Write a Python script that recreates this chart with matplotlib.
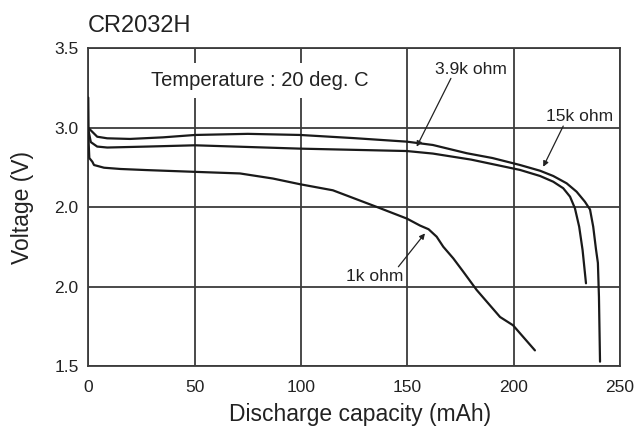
import matplotlib
matplotlib.use("Agg")
import matplotlib.pyplot as plt

plt.rcParams['font.family'] = ['Liberation Sans', 'DejaVu Sans']

# ---- data ----
cap_15k = [0, 4.2, 8.9, 19.6, 35.1, 50.2, 75, 99.6, 125, 149.7, 162, 178, 190, 203.0, 212.4,
           218.6, 224.9, 229.6, 233.5, 235.9, 237.4, 238.7, 239.6, 240.1, 240.6]
v_15k   = [3.0, 2.944, 2.934, 2.93, 2.94, 2.955, 2.962, 2.955, 2.935, 2.913, 2.892, 2.84, 2.81, 2.766, 2.730,
           2.697, 2.651, 2.598, 2.535, 2.486, 2.378, 2.236, 2.15, 1.936, 1.529]

cap_39k = [0, 1.2, 4.2, 8.9, 27.6, 50.2, 99.6, 149.7, 162, 180, 203.0, 212.4, 218.6, 223.3,
           226.5, 228.8, 230.8, 232.4, 234.0]
v_39k   = [2.99, 2.91, 2.882, 2.876, 2.882, 2.89, 2.869, 2.854, 2.838, 2.80, 2.735, 2.697, 2.661, 2.62,
           2.567, 2.494, 2.378, 2.231, 2.022]

cap_1k = [0, 0.2, 0.5, 1.9, 2.7, 7.4, 15.2, 27.6, 50.2, 71.3, 86.8, 99.6, 115, 135.7, 149.8,
          156, 160, 163.8, 166.9, 171.6, 176.3, 182.6, 193.6, 199.7, 210]
v_1k   = [3.19, 2.90, 2.81, 2.787, 2.766, 2.749, 2.741, 2.734, 2.723, 2.713, 2.681, 2.645, 2.607, 2.502, 2.429,
          2.385, 2.362, 2.315, 2.252, 2.179, 2.095, 1.98, 1.81, 1.758, 1.60]

x_ticks = [0, 50, 100, 150, 200, 250]
x_tick_labels = ['0', '50', '100', '150', '200', '250']
y_ticks = [1.5, 2.0, 2.5, 3.0, 3.5]
y_tick_labels = ['1.5', '2.0', '2.0', '3.0', '3.5']

labels = ['15k ohm', '3.9k ohm', '1k ohm']
label_pos = {'15k ohm': (231.2, 3.043), '3.9k ohm': (179.7, 3.338), '1k ohm': (134.8, 2.036)}
arrow_from = {'15k ohm': (223.3, 3.011), '3.9k ohm': (170.5, 3.311), '1k ohm': (145.8, 2.126)}
arrow_to = {'15k ohm': (213.9, 2.755), '3.9k ohm': (154.4, 2.881), '1k ohm': (158.3, 2.336)}

# ---- figure ----
fig = plt.figure(figsize=(6.35, 4.28), dpi=100)
ax = fig.add_axes([0.139, 0.1442, 0.8374, 0.7429])

grid_c = '#3c3c3c'
txt_c = '#222222'

ax.set_xlim(0, 250)
ax.set_ylim(1.5, 3.5)
ax.set_xticks(x_ticks)
ax.set_xticklabels(x_tick_labels)
ax.set_yticks(y_ticks)
ax.set_yticklabels(y_tick_labels)
ax.tick_params(length=0, labelsize=12.5, colors=txt_c)
ax.tick_params(axis='x', pad=10)
ax.tick_params(axis='y', pad=7)
ax.grid(True, color=grid_c, linewidth=1.3)
ax.set_axisbelow(True)
for s in ax.spines.values():
    s.set_color(grid_c)
    s.set_linewidth(1.3)

for cx, cy in [(cap_15k, v_15k), (cap_39k, v_39k), (cap_1k, v_1k)]:
    ax.plot(cx, cy, color='#1a1a1a', linewidth=1.6, solid_joinstyle='round',
            solid_capstyle='round', zorder=3)

ax.text(80.5, 3.263, 'Temperature : 20 deg. C', ha='center', va='baseline',
        fontsize=14.5, color=txt_c, zorder=4,
        bbox=dict(facecolor='white', edgecolor='none', pad=6))

for lab in labels:
    lx, ly = label_pos[lab]
    ax.text(lx, ly, lab, ha='center', va='baseline', fontsize=12.5, color=txt_c, zorder=4)
    ax.annotate('', xy=arrow_to[lab], xytext=arrow_from[lab],
                arrowprops=dict(arrowstyle='-|>', lw=0.9, color=txt_c,
                                mutation_scale=8, shrinkA=0, shrinkB=0), zorder=4)

fig.text(88 / 635, 1 - 32 / 428, 'CR2032H', ha='left', va='baseline', fontsize=17, color=txt_c)
fig.text(22 / 635, 1 - 207 / 428, 'Voltage (V)', rotation=90, ha='center', va='center',
         fontsize=16.5, color=txt_c)
fig.text(360 / 635, 1 - 415 / 428, 'Discharge capacity (mAh)', ha='center', va='center',
         fontsize=16.5, color=txt_c)

fig.savefig('out.png', dpi=100)
